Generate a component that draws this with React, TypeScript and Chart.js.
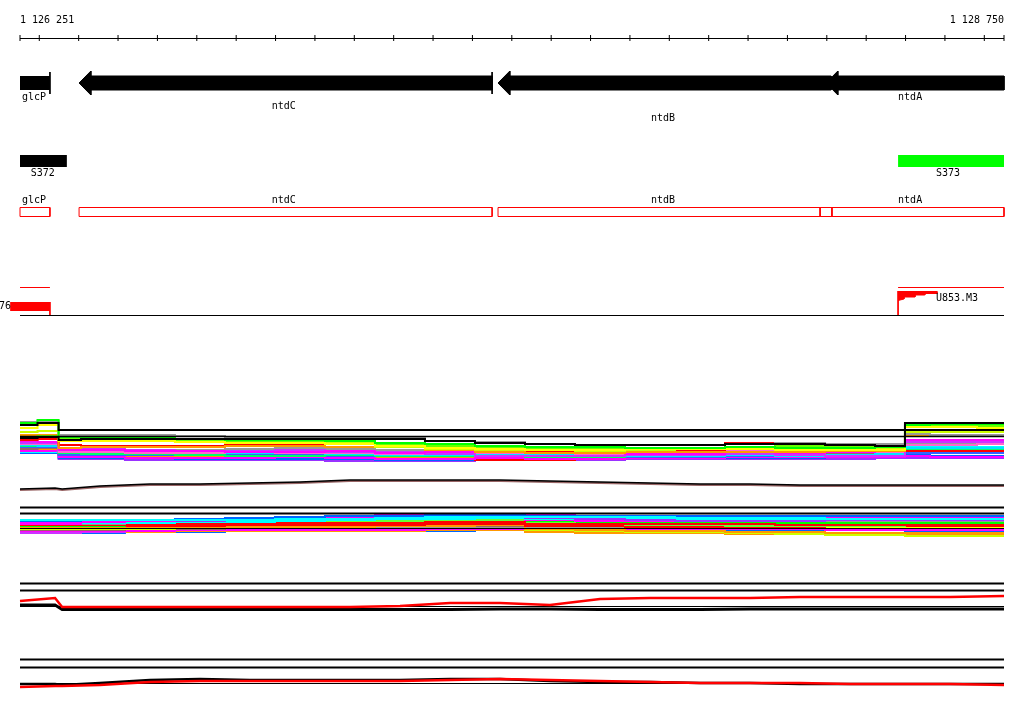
import React, { useEffect, useRef } from "react";
import { Chart, registerables } from "chart.js";

Chart.register(...registerables);

// ---------- view / ruler ----------
const VIEW_START = 1126251;
const VIEW_END = 1128750;
const RULER_LABELS = ["1 126 251", "1 128 750"];
const RULER_TICKS: number[] = [VIEW_START];
for (let p = 1126300; p <= 1128700; p += 100) RULER_TICKS.push(p);
RULER_TICKS.push(VIEW_END);

// ---------- gene features ----------
const GENE_NAMES = ["glcP", "ntdC", "ntdB", "ntdA"];
const GENE_START = [1126251, 1126401, 1127465, 1128298];
const GENE_END = [1126327, 1127450, 1128311, 1128750];
const GENE_ARROW = [false, true, true, true];
const GENE_END_MARKS = [1126327, 1127450];

const CDS_START = [1126251, 1126401, 1127465, 1128283, 1128313];
const CDS_END = [1126327, 1127450, 1128283, 1128313, 1128750];

const SITE_NAMES = ["S372", "S373"];
const SITE_START = [1126251, 1128481];
const SITE_END = [1126370, 1128750];
const SITE_COLORS = ["#000000", "#00ff00"];

// ---------- reads track ----------
const READ_LEFT = [1126226, 1126327];
const READ_RIGHT_START = 1128481;
const WEDGE_X = [1128481, 1128580, 1128580, 1128549, 1128549, 1128524, 1128524, 1128496, 1128496, 1128481];
const WEDGE_Y = [291.5, 291.5, 293.5, 293.5, 295, 295, 297, 297, 299, 300.5];

// ---------- profile tracks ----------
const KNOTS = [1126251, 1126340, 1126358, 1126454, 1126581, 1126708, 1126835, 1126962, 1127089, 1127216, 1127343, 1127470, 1127597, 1127724, 1127851, 1127978, 1128105, 1128232, 1128359, 1128486, 1128511, 1128613, 1128750];

const A_GREEN = [423, 420, 437, 438, 438, 439, 440, 440, 441, 443, 444, 446, 447, 447, 448, 448, 447, 448, 448, 447, 425, 424, 424];
const A_GRAY = [422, 421, 435, 435, 435, 436, 437, 438, 438, 438, 441, 442, 444, 445, 445, 445, 444, 443, 444, 444, 434, 435, 435];
const A_BLACK1 = [425, 423, 430, 430, 430, 430, 430, 430, 430, 430, 430, 430, 430, 430, 430, 430, 430, 430, 430, 430, 430, 430, 430];
const A_BLACK2 = [438, 437, 440, 439, 439, 439, 439, 439, 439, 439, 441, 443, 444, 445, 445, 445, 444, 444, 445, 446, 423, 423, 423];
const A_YELLOW = [428, 425, 441, 441, 441, 442, 443, 443, 444, 446, 448, 449, 450, 450, 449, 449, 449, 450, 450, 450, 427, 427, 428];
const A_ORANGE = [435, 435, 448, 447, 447, 447, 446, 446, 447, 447, 450, 452, 453, 453, 452, 452, 452, 452, 451, 451, 435, 435, 436];
const A_LIME = [437, 436, 439, 440, 440, 441, 441, 442, 441, 444, 446, 447, 448, 448, 448, 448, 447, 446, 446, 446, 426, 426, 426];
const A_RED = [440, 439, 445, 446, 446, 446, 445, 444, 443, 444, 441, 448, 451, 451, 452, 451, 443, 449, 451, 450, 451, 451, 451];
const A_MAGENTA = [441, 442, 450, 450, 451, 451, 452, 452, 451, 453, 452, 451, 452, 453, 454, 454, 452, 453, 452, 451, 440, 440, 440];
const A_PURPLE = [443, 443, 449, 449, 450, 451, 451, 450, 452, 452, 454, 456, 456, 456, 455, 455, 454, 455, 456, 456, 442, 442, 442];
const A_CYAN = [445, 446, 452, 452, 452, 453, 453, 452, 454, 455, 455, 455, 454, 455, 456, 456, 455, 456, 455, 454, 448, 448, 448];
const A_BLUE = [447, 447, 455, 455, 455, 454, 454, 455, 456, 456, 456, 455, 455, 456, 457, 457, 456, 455, 455, 456, 453, 453, 453];
const A_GRAY2 = [446, 445, 451, 451, 450, 450, 449, 448, 449, 450, 451, 452, 451, 451, 450, 449, 449, 448, 449, 450, 443, 443, 443];
const A_BROWN = [449, 448, 453, 453, 453, 452, 453, 453, 454, 454, 455, 455, 455, 454, 454, 454, 454, 453, 453, 453, 450, 450, 450];
const A_MAGENTA2 = [451, 451, 457, 457, 458, 458, 458, 457, 458, 459, 459, 458, 459, 459, 458, 458, 457, 457, 457, 457, 456, 457, 457];
const A_ORANGE2 = [448, 449, 455, 456, 456, 456, 455, 456, 456, 457, 457, 457, 457, 457, 456, 456, 456, 456, 456, 455, 449, 449, 449];
const A_RED2 = [450, 450, 454, 455, 456, 457, 456, 457, 457, 458, 458, 460, 460, 458, 457, 456, 456, 455, 455, 455, 451, 451, 451];
const A_CYAN2 = [452, 452, 456, 456, 456, 456, 457, 456, 455, 456, 457, 457, 457, 458, 458, 457, 456, 456, 456, 456, 447, 447, 447];
const A_BLUE2 = [453, 453, 458, 458, 458, 459, 459, 459, 459, 460, 460, 459, 459, 459, 458, 458, 458, 458, 457, 457, 455, 456, 456];
const A_YGREEN = [432, 431, 441, 441, 441, 442, 443, 442, 443, 447, 449, 450, 450, 451, 450, 449, 448, 448, 449, 449, 432, 432, 432];
const A_PINK = [444, 444, 452, 452, 453, 453, 452, 453, 453, 454, 453, 453, 453, 454, 454, 453, 451, 451, 452, 452, 445, 445, 444];
const A_GREEN2 = [446, 446, 453, 454, 454, 455, 456, 456, 455, 456, 456, 456, 457, 457, 456, 455, 455, 455, 456, 456, 449, 449, 449];
const A_PURPLE2 = [453, 453, 459, 459, 460, 460, 460, 460, 461, 461, 461, 460, 460, 460, 459, 459, 459, 459, 459, 458, 458, 458, 458];
const A_REFS = [436.5];
const E_BROWN = [490, 489, 490, 487, 485, 485, 484, 483, 481, 481, 481, 481, 482, 483, 484, 485, 485, 486, 486, 486, 486, 486, 486];
const E_BLACK = [489, 488, 489, 486, 484, 484, 483, 482, 480, 480, 480, 480, 481, 482, 483, 484, 484, 485, 485, 485, 485, 485, 485];

const B_MAGENTA = [523, 523, 523, 522, 521, 520, 519, 518, 517, 515, 514, 514, 515, 516, 516, 517, 518, 518, 518, 518, 518, 518, 518];
const B_BLUE = [521, 521, 521, 520, 520, 519, 518, 517, 516, 516, 515, 515, 516, 516, 516, 516, 516, 516, 516, 516, 516, 516, 516];
const B_CYAN = [522, 522, 522, 523, 523, 522, 522, 521, 520, 519, 519, 518, 519, 519, 519, 520, 520, 519, 519, 518, 518, 518, 518];
const B_GRAY = [524, 524, 524, 524, 522, 520, 519, 518, 518, 518, 516, 516, 518, 519, 520, 520, 521, 521, 521, 521, 521, 521, 521];
const B_PURPLE = [533, 533, 533, 532, 531, 530, 529, 528, 527, 526, 524, 523, 523, 524, 524, 524, 523, 523, 522, 522, 522, 522, 522];
const B_GREEN = [526, 526, 526, 526, 525, 524, 524, 523, 523, 522, 521, 521, 521, 522, 522, 523, 523, 523, 523, 523, 523, 523, 523];
const B_YELLOW = [528, 528, 528, 527, 527, 526, 526, 526, 525, 525, 525, 524, 524, 525, 526, 526, 527, 527, 527, 527, 527, 527, 527];
const B_ORANGE = [527, 527, 527, 527, 527, 527, 527, 527, 527, 526, 526, 525, 529, 530, 531, 531, 532, 532, 533, 533, 533, 533, 533];
const B_RED = [525, 525, 525, 525, 525, 524, 524, 523, 523, 523, 522, 522, 524, 524, 524, 524, 524, 525, 525, 525, 525, 525, 525];
const B_BROWN = [530, 530, 530, 530, 529, 529, 528, 528, 528, 527, 526, 526, 526, 526, 526, 526, 526, 527, 527, 527, 527, 527, 527];
const B_MAGENTA2 = [531, 531, 531, 531, 531, 530, 530, 530, 530, 530, 529, 529, 530, 530, 530, 529, 529, 529, 530, 530, 530, 530, 530];
const B_BLUE2 = [533, 533, 533, 533, 532, 532, 531, 531, 531, 531, 531, 530, 530, 530, 530, 530, 530, 530, 530, 530, 531, 531, 531];
const B_CYAN2 = [520, 520, 520, 520, 520, 520, 520, 519, 519, 518, 517, 517, 517, 517, 517, 518, 518, 518, 519, 519, 519, 519, 519];
const B_LIME = [529, 529, 529, 529, 529, 528, 528, 528, 528, 528, 528, 528, 530, 531, 532, 532, 533, 534, 535, 535, 536, 536, 536];
const B_GRAY2 = [527, 527, 527, 527, 528, 528, 528, 528, 528, 527, 527, 528, 528, 528, 528, 528, 528, 528, 528, 528, 528, 528, 528];
const B_MAGENTA3 = [524, 524, 524, 523, 523, 522, 521, 520, 519, 518, 517, 517, 520, 521, 521, 521, 520, 520, 520, 520, 519, 519, 519];
const B_PURPLE2 = [522, 522, 522, 522, 521, 521, 520, 519, 518, 517, 516, 516, 518, 519, 520, 521, 521, 521, 520, 520, 520, 520, 520];
const B_GREEN2 = [525, 525, 525, 525, 524, 523, 523, 522, 522, 521, 520, 520, 523, 524, 525, 525, 526, 526, 526, 526, 525, 525, 525];
const B_ORANGE2 = [532, 532, 532, 532, 532, 531, 531, 531, 531, 531, 530, 530, 532, 533, 533, 533, 534, 534, 534, 534, 534, 534, 534];
const B_RED2 = [526, 526, 526, 526, 526, 526, 525, 525, 525, 525, 524, 524, 526, 526, 527, 527, 527, 527, 526, 526, 526, 526, 526];
const B_PINK = [528, 528, 528, 528, 528, 527, 527, 527, 527, 526, 525, 525, 525, 525, 526, 526, 526, 526, 526, 526, 526, 526, 526];
const B_REFS = [507.5, 513.5, 528.5];

const C_RED = [601, 598, 607, 607, 607, 607, 607, 607, 607, 606, 603, 603, 605, 599, 598, 598, 598, 597, 597, 597, 597, 597, 596];
const C_BLACK = [605, 605, 609.5, 609.5, 609.5, 609.5, 609.5, 609.5, 609.5, 609.5, 609.5, 609, 609, 609.5, 609.5, 609.5, 609, 609, 609, 609, 609, 609, 609];
const C_REFS = [583.5, 590.5, 606.5];

const D_RED = [687, 686, 686, 685, 682, 681, 681, 681, 681, 681, 680, 679, 680, 681, 682, 683, 683, 683, 684, 684, 684, 684, 685];
const D_BLACK = [684, 684, 685, 683, 680, 679, 680, 680, 680, 680, 679, 679, 681, 682, 682, 683, 683, 684, 684, 684, 684, 684, 684];
const D_REFS = [659.5, 667.5, 683.5];

const TEXTS = [
  { t: RULER_LABELS[0], x: VIEW_START, y: 20, a: "left" },
  { t: RULER_LABELS[1], x: VIEW_END, y: 20, a: "right" },
  { t: GENE_NAMES[0], x: 1126256, y: 97, a: "left" },
  { t: GENE_NAMES[1], x: 1126921, y: 106, a: "center" },
  { t: GENE_NAMES[2], x: 1127884, y: 118, a: "center" },
  { t: GENE_NAMES[3], x: 1128481, y: 97, a: "left" },
  { t: SITE_NAMES[0], x: 1126309, y: 173, a: "center" },
  { t: SITE_NAMES[1], x: 1128608, y: 173, a: "center" },
  { t: GENE_NAMES[0], x: 1126256, y: 200, a: "left" },
  { t: GENE_NAMES[1], x: 1126921, y: 200, a: "center" },
  { t: GENE_NAMES[2], x: 1127884, y: 200, a: "center" },
  { t: GENE_NAMES[3], x: 1128481, y: 200, a: "left" },
  { t: "76", x: 1126228, y: 306, a: "right" },
  { t: "U853.M3", x: 1128577, y: 298, a: "left" },
];

const textPlugin = {
  id: "trackTexts",
  afterDatasetsDraw(chart: any) {
    const { ctx, scales } = chart;
    ctx.save();
    ctx.font = "10px 'DejaVu Sans Mono', monospace";
    ctx.fillStyle = "#000";
    ctx.textBaseline = "middle";
    for (const tx of TEXTS) {
      ctx.textAlign = tx.a;
      ctx.fillText(tx.t, scales.x.getPixelForValue(tx.x), scales.y.getPixelForValue(tx.y));
    }
    ctx.restore();
  },
};

export default function App() {
  const ref = useRef<HTMLCanvasElement>(null);
  useEffect(() => {
    const bpPerPx = (VIEW_END - VIEW_START) / 984;
    const ds: any[] = [];
    const L = (pts: { x: number; y: number }[], color: string, width: number, extra: any = {}) =>
      ds.push({
        data: pts,
        borderColor: color,
        backgroundColor: color,
        borderWidth: width,
        pointRadius: 0,
        fill: false,
        tension: 0,
        borderCapStyle: "butt",
        ...extra,
      });
    const H = (x1: number, x2: number, y: number, color: string, w: number) =>
      L([{ x: x1, y }, { x: x2, y }], color, w);
    const V = (x: number, y1: number, y2: number, color: string, w: number) =>
      L([{ x, y: y1 }, { x, y: y2 }], color, w);
    const series = (vals: number[], color: string, w = 2, extra: any = {}) =>
      L(KNOTS.map((x, i) => ({ x, y: vals[i] })), color, w, extra);

    // ruler
    H(VIEW_START, VIEW_END, 38.5, "#000", 1);
    L(RULER_TICKS.map((x) => ({ x, y: 38 })), "#000", 1, {
      showLine: false,
      pointStyle: "line",
      rotation: 90,
      pointRadius: 3,
    });

    // genes
    const HEAD = 30;
    GENE_NAMES.forEach((_, i) => {
      const s = GENE_START[i];
      const e = GENE_END[i];
      if (GENE_ARROW[i]) {
        L(
          [
            { x: s, y: 83 },
            { x: s + HEAD, y: 71 },
            { x: s + HEAD, y: 76 },
            { x: e, y: 76 },
            { x: e, y: 90 },
            { x: s + HEAD, y: 90 },
            { x: s + HEAD, y: 95 },
            { x: s, y: 83 },
          ],
          "#000",
          1,
          { fill: "shape" }
        );
      } else {
        H(s, e, 83, "#000", 14);
      }
    });
    GENE_END_MARKS.forEach((x) => V(x, 72, 94, "#000", 1));

    // sites
    SITE_NAMES.forEach((_, i) => H(SITE_START[i], SITE_END[i], 161, SITE_COLORS[i], 12));

    // CDS boxes
    CDS_START.forEach((s, i) => {
      const e = CDS_END[i];
      L(
        [
          { x: s, y: 207.5 },
          { x: e, y: 207.5 },
          { x: e, y: 216.5 },
          { x: s, y: 216.5 },
          { x: s, y: 207.5 },
        ],
        "#ff0000",
        1
      );
    });

    // reads track
    H(VIEW_START, READ_LEFT[1], 287.5, "#ff0000", 1);
    H(READ_RIGHT_START, VIEW_END, 287.5, "#ff0000", 1);
    H(READ_LEFT[0], READ_LEFT[1], 306.5, "#ff0000", 9);
    V(READ_LEFT[1], 302, 315, "#ff0000", 1);
    L(WEDGE_X.map((x, i) => ({ x, y: WEDGE_Y[i] })), "#ff0000", 1, { fill: "shape" });
    V(READ_RIGHT_START, 291, 315, "#ff0000", 1);
    H(VIEW_START, VIEW_END, 315.5, "#000", 1);

    // track A
    const aList: [number[], string][] = [
      [A_PURPLE2, "#9933ff"], [A_BLUE2, "#0066ff"], [A_CYAN2, "#00ffff"], [A_RED2, "#ff0000"],
      [A_ORANGE2, "#ff9900"], [A_MAGENTA2, "#ff00ff"], [A_BROWN, "#996666"], [A_GRAY2, "#999999"],
      [A_BLUE, "#3366ff"], [A_GREEN2, "#00ff66"], [A_CYAN, "#00e5ff"], [A_PINK, "#ff66cc"],
      [A_PURPLE, "#cc33ff"], [A_MAGENTA, "#ff00ff"], [A_RED, "#ff0000"], [A_ORANGE, "#ff9900"],
      [A_YGREEN, "#ccff00"], [A_LIME, "#66ff00"], [A_YELLOW, "#ffff00"], [A_GRAY, "#999999"],
      [A_GREEN, "#00ff00"], [A_BLACK2, "#000000"], [A_BLACK1, "#000000"],
    ];
    aList.forEach(([v, c]) => series(v, c, 2, { stepped: "middle" }));
    A_REFS.forEach((y) => H(VIEW_START, VIEW_END, y, "#000", 1.5));
    series(E_BROWN, "#996666", 2);
    series(E_BLACK, "#000000", 1.5);

    // track B
    const bList: [number[], string][] = [
      [B_BLUE2, "#0066ff"], [B_ORANGE2, "#ff9900"], [B_PURPLE, "#cc33ff"], [B_MAGENTA2, "#ff00ff"],
      [B_BROWN, "#996666"], [B_LIME, "#ccff00"], [B_PINK, "#ff66cc"], [B_GRAY2, "#999999"],
      [B_YELLOW, "#ffff00"], [B_ORANGE, "#ff9900"], [B_RED2, "#ff0000"], [B_GREEN, "#00ff00"],
      [B_GREEN2, "#66ff33"], [B_RED, "#ff0000"], [B_GRAY, "#999999"], [B_MAGENTA3, "#ff00ff"],
      [B_CYAN, "#00ffff"], [B_PURPLE2, "#9933ff"], [B_MAGENTA, "#ff00ff"], [B_BLUE, "#0066ff"],
      [B_CYAN2, "#00ffff"],
    ];
    bList.forEach(([v, c]) => series(v, c, 2, { stepped: "middle" }));
    B_REFS.forEach((y, i) => H(VIEW_START, VIEW_END, y, "#000", i < 2 ? 2 : 1));

    // track C
    C_REFS.forEach((y, i) => H(VIEW_START, VIEW_END, y, "#000", i < 2 ? 2 : 1));
    series(C_BLACK, "#000000", 3);
    series(C_RED, "#ff0000", 2.5);

    // track D
    D_REFS.forEach((y, i) => H(VIEW_START, VIEW_END, y, "#000", i < 2 ? 2 : 1));
    series(D_BLACK, "#000000", 2.5);
    series(D_RED, "#ff0000", 2.5);

    const chart = new Chart(ref.current as HTMLCanvasElement, {
      type: "line",
      data: { datasets: ds.slice().reverse() },
      options: {
        responsive: false,
        animation: false,
        devicePixelRatio: 1,
        layout: { padding: 0, autoPadding: false },
        events: [],
        scales: {
          x: {
            type: "linear",
            min: VIEW_START - 20 * bpPerPx,
            max: VIEW_END + 20 * bpPerPx,
            display: false,
          },
          y: { type: "linear", min: 0, max: 714, reverse: true, display: false },
        },
        plugins: { legend: { display: false }, tooltip: { enabled: false } },
      } as any,
      plugins: [textPlugin],
    });
    return () => chart.destroy();
  }, []);
  return (
    <div style={{ position: "fixed", left: 0, top: 0, width: 1024, height: 714, background: "#fff" }}>
      <canvas ref={ref} width={1024} height={714} style={{ display: "block" }} />
    </div>
  );
}
